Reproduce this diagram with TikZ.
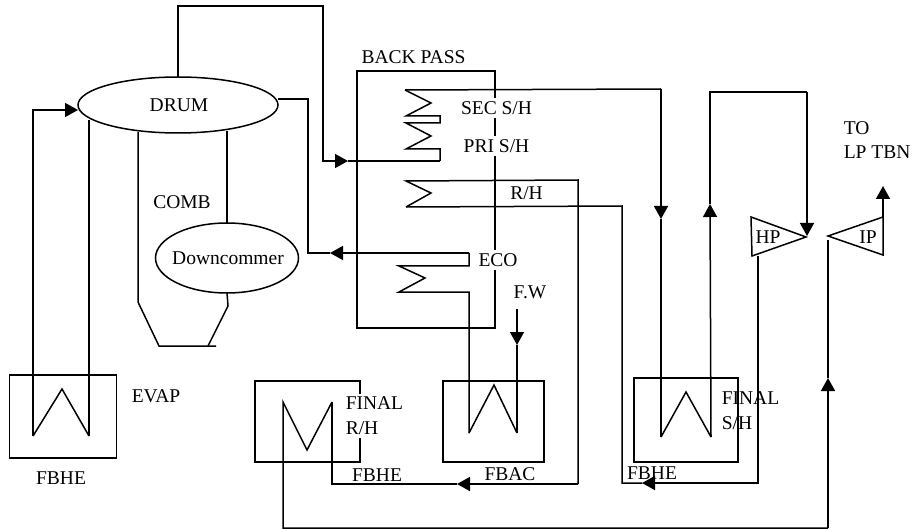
\documentclass[tikz,border=0pt]{standalone}
\usepackage{fontspec}
\setmainfont{Liberation Serif}
\usetikzlibrary{arrows.meta, shapes.geometric}

\tikzset{
    vessel/.style={draw, ellipse, inner sep=0pt, outer sep=0pt},
    unitbox/.style={draw, rectangle, inner sep=0pt, outer sep=0pt},
    tag/.style={inner sep=0pt, align=left},
    maskedtag/.style={tag, fill=white, inner ysep=3pt},
    flow/.style={-{Triangle[length=13pt,width=14pt]}}
}

\begin{document}
\begin{tikzpicture}[%
    x=1pt, y=-1pt,
    line width=1.5pt,
    font=\fontsize{19.5}{25}\selectfont,
    color=black
]
    \useasboundingbox (0,0) rectangle (915,529);

    % ==========================================
    % 1. Units (Nodes)
    % ==========================================
    \node[vessel, minimum width=200pt, minimum height=56pt] (drum) at (178,105) {};
    \node[vessel, minimum width=143pt, minimum height=70pt] (downcomer) at (227,258) {};
    \node[unitbox, minimum width=138pt, minimum height=257pt] (backpass) at (426,199.5) {};
    \node[unitbox, minimum width=107pt, minimum height=83pt] (evapbox) at (63,416.5) {};
    \node[unitbox, minimum width=105pt, minimum height=81pt] (rhbox) at (307.5,421.5) {};
    \node[unitbox, minimum width=101pt, minimum height=81pt] (acbox) at (493.5,421.5) {};
    \node[unitbox, minimum width=104pt, minimum height=84pt] (shbox) at (686,420) {};

    % ==========================================
    % 2. Way points
    % ==========================================
    % drum to back pass
    \coordinate (topleft) at (178,6);
    \coordinate (topright) at (323,6);
    \coordinate (priarrow) at (348,161);
    \coordinate (priin) at (440,161);
    % economiser to drum
    \coordinate (ecoarrow) at (330,253);
    \coordinate (ecoout) at (469,253);
    \coordinate (ecobend) at (469,266);
    \coordinate (ecotop) at (399,266);
    \coordinate (ecobot) at (399,292);
    \coordinate (ecodrop) at (469,292);
    \coordinate (drumside) at (278,99);
    \coordinate (drumdrop) at (308,99);
    % evaporator
    \coordinate (evapl) at (33,436);
    \coordinate (evapr) at (89,436);
    \coordinate (evaplup) at (33,110);
    \coordinate (evaparrow) at (78,110);
    \coordinate (evaprup) at (89,120);
    % combustor
    \coordinate (combl) at (138,132);
    \coordinate (comblk) at (138,302);
    \coordinate (combbl) at (159,346);
    \coordinate (combbr) at (216,346);
    \coordinate (combrt) at (227,131);
    \coordinate (combrk) at (228,306);
    \coordinate (combrb) at (208,346);
    % superheaters
    \coordinate (secin) at (405,90);
    \coordinate (secturn) at (661,89);
    \coordinate (secarrow) at (661,219);
    \coordinate (fshl) at (661,437);
    \coordinate (fshr) at (711,437);
    \coordinate (fsharrow) at (710,204);
    \coordinate (fshtop) at (710,92);
    \coordinate (hpturn) at (807,92);
    \coordinate (hparrow) at (807,236);
    % reheat
    \coordinate (rhcold) at (406,207);
    \coordinate (rhcoldr) at (622,206);
    \coordinate (rhhot) at (406,181);
    \coordinate (rhhotr) at (578,180);
    \coordinate (hpdown) at (758,256);
    \coordinate (hpbend) at (758,483);
    \coordinate (hpbendl) at (622,483);
    \coordinate (hpflow) at (642,483);
    \coordinate (rhdown) at (578,484);
    \coordinate (rhflow) at (457,484);
    \coordinate (rhend) at (332,484);
    \coordinate (frhl) at (283,402);
    \coordinate (frhr) at (332,402);
    \coordinate (frhbot) at (283,528);
    \coordinate (ipbot) at (828,528);
    \coordinate (iparrow) at (828,378);
    \coordinate (ipin) at (828,240);
    % feed water
    \coordinate (fwstart) at (517,309);
    \coordinate (fwarrow) at (517,345);
    \coordinate (acl) at (469,433);
    \coordinate (acr) at (517,433);
    % turbines
    \coordinate (hpa) at (751,217);
    \coordinate (hpb) at (806,237);
    \coordinate (hpc) at (752,256);
    \coordinate (ipa) at (828,236);
    \coordinate (ipb) at (883,217);
    \coordinate (ipc) at (883,255);
    \coordinate (iparrowup) at (883,186);

    % ==========================================
    % 3. Connectors
    % ==========================================
    % drum, evaporator
    \draw[flow] (evapl) -- (evaplup) -- (evaparrow);
    \draw (evapl) -- ++(29,-47) -- (evapr);
    \draw (evapr) -- (evaprup);
    \draw[flow] (drum.north) -- (topleft) -- (topright) |- (priarrow);
    \draw (priarrow) -- (priin);
    \draw (drumside) -- (drumdrop) |- (ecoarrow);
    \draw[flow] (ecoout) -- (ecoarrow);

    % combustor
    \draw (combl) -- (comblk) -- (combbl) -- (combbr);
    \draw (combrt) -- (downcomer.north);
    \draw (downcomer.south) -- (combrk) -- (combrb);

    % economiser
    \draw (ecoout) -- (ecobend) -- (ecotop) -- ++(26,12) -- (ecobot) -- (ecodrop) -- (acl);
    \draw (acl) -- ++(25,-48) -- (acr);
    \draw[flow] (fwstart) -- (fwarrow);
    \draw (fwarrow) -- (acr);

    % superheaters
    \draw (secin) -- (secturn);
    \draw[flow] (secturn) -- (secarrow);
    \draw (secarrow) -- (fshl);
    \draw (secin) -- ++(26,13) -- ++(-25,13) -- ++(34,0) -- ++(0,7) -- ++(-34,0)
        -- ++(25,13) -- ++(-25,13) -- ++(34,0) -- (priin);
    \draw (fshl) -- ++(25,-45) -- (fshr);
    \draw[flow] (fshr) -- (fsharrow);
    \draw (fsharrow) -- (fshtop) -- (hpturn);
    \draw[flow] (hpturn) -- (hparrow);

    % reheat
    \draw (hpa) -- (hpb) -- (hpc) -- cycle;
    \draw[flow] (hpdown) -- (hpbend) -- (hpflow);
    \draw (hpflow) -- (hpbendl) -- (rhcoldr) -- (rhcold);
    \draw (rhcold) -- ++(25,-14) -- (rhhot) -- (rhhotr) -- (rhdown);
    \draw[flow] (rhdown) -- (rhflow);
    \draw (rhflow) -- (rhend) -- (frhr);
    \draw (frhr) -- ++(-25,48) -- (frhl) -- (frhbot) -- (ipbot);
    \draw[flow] (ipbot) -- (iparrow);
    \draw (iparrow) -- (ipin);
    \draw (ipa) -- (ipb) -- (ipc) -- cycle;
    \draw[flow] (ipb) -- (iparrowup);

    % ==========================================
    % 4. Labels
    % ==========================================
    \node[tag] (drumlab) at (179,105) {DRUM};
    \node[tag] (comblab) at (182,202) {COMB};
    \node[tag] (dclab) at (228,258) {Downcommer};
    \node[tag] (bplab) at (413.5,57) {BACK PASS};
    \node[maskedtag] (seclab) at (496.5,108) {SEC S/H};
    \node[maskedtag] (prilab) at (496.5,146) {PRI S/H};
    \node[tag] (rhlab) at (526.5,193) {R/H};
    \node[maskedtag] (ecolab) at (498,260) {ECO};
    \node[tag] (fwlab) at (530,292) {F.W};
    \node[tag] (hplab) at (768,237) {HP};
    \node[tag] (iplab) at (868,237) {IP};
    \node[tag, anchor=west] (tolab) at (843,128) {TO};
    \node[tag, anchor=west] (lplab) at (843,152) {LP TBN};
    \node[tag] (evaplab) at (156,396) {EVAP};
    \node[tag] (fbheleft) at (61,478) {FBHE};
    \node[maskedtag, anchor=west] (frhlab) at (345,416) {FINAL\\[0pt]R/H};
    \node[tag] (fbhemid) at (377,475) {FBHE};
    \node[tag] (fbaclab) at (510,474) {FBAC};
    \node[tag] (fbheright) at (652,473) {FBHE};
    \node[tag, anchor=west] (fshlab) at (721,411) {FINAL\\[0pt]S/H};
\end{tikzpicture}
\end{document}
